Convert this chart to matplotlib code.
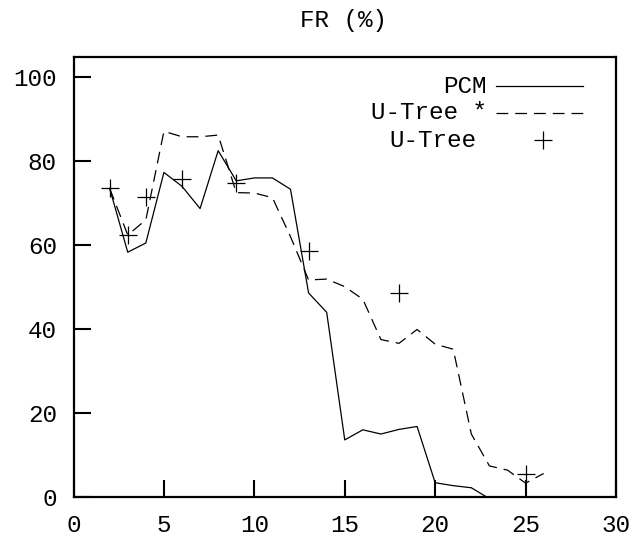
import matplotlib
matplotlib.use('Agg')
import matplotlib.pyplot as plt

# PCM (solid line)
pcm_x = [2, 3, 4, 5, 6, 7, 8, 9, 10, 11, 12, 13, 14, 15, 16, 17, 18, 19, 20, 21, 22, 23, 24, 25, 26]
pcm_y = [73.5, 58.3, 60.5, 77.3, 74.0, 68.7, 82.5, 75.3, 76.0, 76.0, 73.3, 48.6, 44.0, 13.6, 16.0,
         15.0, 16.1, 16.8, 3.4, 2.7, 2.2, -0.4, 0.0, 0.0, 0.0]

# U-Tree * (dashed line)
ut_star_x = [2, 3, 4, 5, 6, 7, 8, 9, 10, 11, 12, 13, 14, 15, 16, 17, 18, 19, 20, 21, 22, 23, 24, 25, 26]
ut_star_y = [73.5, 62.4, 66.0, 87.1, 85.8, 85.8, 86.2, 72.5, 72.4, 71.3, 62.0, 51.7, 51.9, 50.1, 47.1,
             37.5, 36.6, 39.9, 36.4, 35.2, 15.0, 7.4, 6.4, 3.3, 5.6]

# U-Tree (points)
ut_x = [2, 3, 4, 6, 9, 13, 18, 25]
ut_y = [73.7, 62.4, 71.5, 75.7, 74.7, 58.7, 48.6, 5.5]

xticks = [0, 5, 10, 15, 20, 25, 30]
yticks = [0, 20, 40, 60, 80, 100]

plt.rcParams['lines.scale_dashes'] = False
mono = 'Liberation Mono'
fs = 17.5

fig = plt.figure(figsize=(6.33, 5.4), dpi=100)
ax = fig.add_axes([73.5 / 633, 43 / 540, 542.5 / 633, 440 / 540])

ax.plot(pcm_x, pcm_y, color='black', lw=0.9)
ax.plot(ut_star_x, ut_star_y, color='black', lw=0.9, dashes=(8.5, 5))
ax.plot(ut_x, ut_y, linestyle='none', marker='+', color='black', markersize=12.5, mew=0.9)

ax.set_xlim(0, 30)
ax.set_ylim(0, 104.8)
ax.set_xticks(xticks)
ax.set_yticks(yticks)
ax.tick_params(direction='in', length=12, width=1.5, labelsize=fs, pad=12)
for lab in ax.get_xticklabels() + ax.get_yticklabels():
    lab.set_family(mono)
for s in ax.spines.values():
    s.set_linewidth(1.6)

# key, gnuplot style (text right-justified, sample to the right)
rows = [0.934, 0.873, 0.811]
ax.text(0.762, rows[0], 'PCM', ha='right', va='center', fontsize=fs, family=mono, transform=ax.transAxes)
ax.text(0.762, rows[1], 'U-Tree *', ha='right', va='center', fontsize=fs, family=mono, transform=ax.transAxes)
ax.text(0.742, rows[2], 'U-Tree', ha='right', va='center', fontsize=fs, family=mono, transform=ax.transAxes)
ax.plot([0.778, 0.939], [rows[0], rows[0]], color='black', lw=0.9, transform=ax.transAxes, clip_on=False)
ax.plot([0.778, 0.939], [rows[1], rows[1]], color='black', lw=0.9, dashes=(8.5, 5),
        transform=ax.transAxes, clip_on=False)
ax.plot([0.865], [rows[2]], marker='+', color='black', markersize=12.5, mew=0.9,
        transform=ax.transAxes, clip_on=False)

fig.text(343 / 633, 1 - 20 / 540, 'FR (%)', ha='center', va='center', fontsize=fs, family=mono)

fig.savefig('out.png', dpi=100, facecolor='white')
